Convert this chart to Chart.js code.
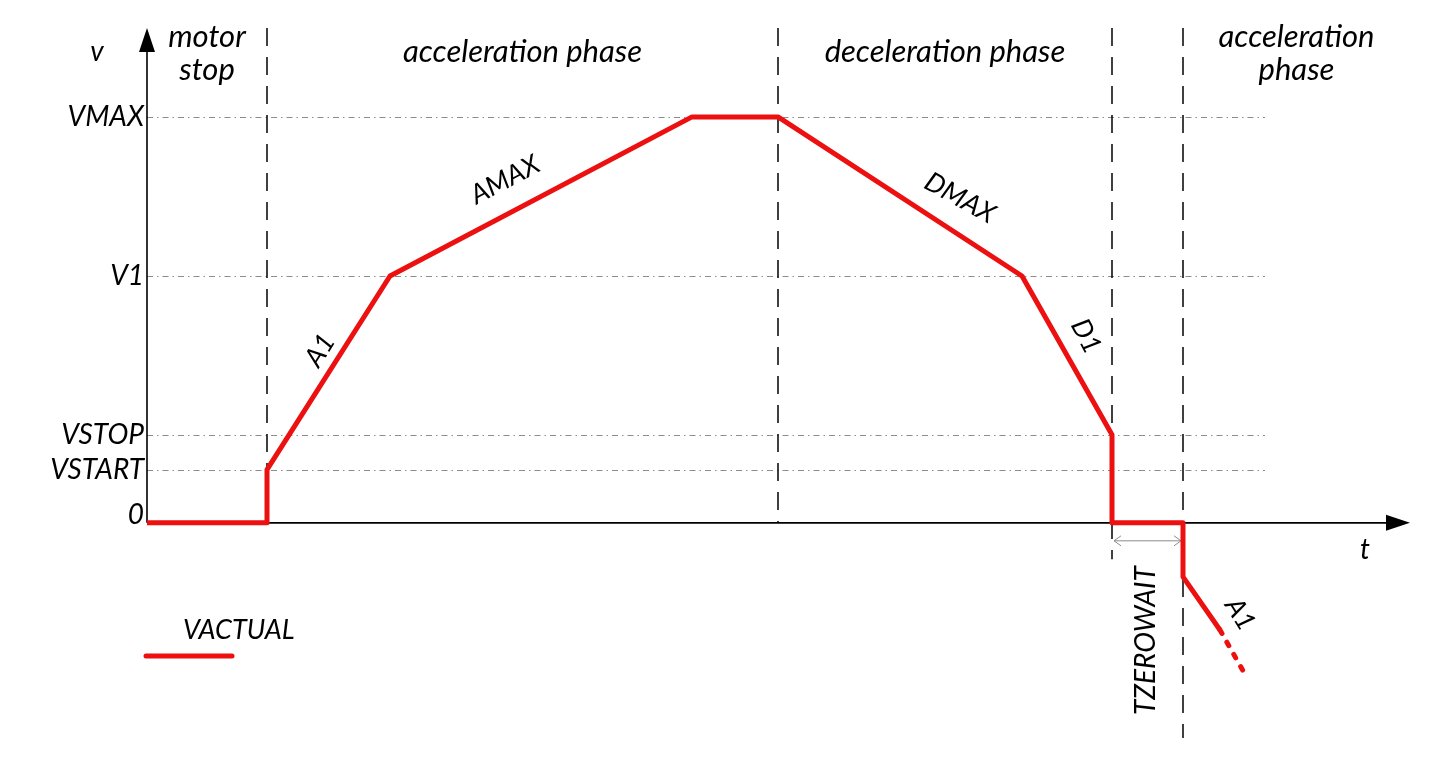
<!DOCTYPE html>
<html>
<head>
<meta charset="utf-8">
<script src="https://cdn.jsdelivr.net/npm/chart.js@4.4.1/dist/chart.umd.min.js"></script>
<style>
  html, body { margin: 0; padding: 0; background: #fff; }
  #wrap { width: 1440px; height: 759px; position: relative; }
</style>
</head>
<body>
<div id="wrap"><canvas id="chart"></canvas></div>
<script>
// Velocity profile (time in arbitrary units, velocity in % of VMAX)
const profileTime = [0, 12, 12, 24.3, 54.5, 63.1, 87.5, 96.5, 96.5, 103.6, 103.6, 107.3];
const profileVel  = [0, 0, 13.1, 60.8, 100, 100, 60.8, 21.7, 0, 0, -13.3, -26.4];
// continuation shown dotted
const tailTime = [107.3, 110];
const tailVel  = [-26.4, -38.2];

// Velocity levels marked on the v axis
const levelNames  = ['VMAX', 'V1', 'VSTOP', 'VSTART', '0'];
const levelValues = [100, 60.8, 21.7, 13.1, 0];

// Phase boundaries (time) and their lower extent (velocity)
const phaseBounds   = [12, 63.1, 96.5, 103.6];
const phaseBoundEnd = [0, 0, -9, -53];
const phaseTitles = [
  { lines: ['motor', 'stop'],          from: 0,     to: 12 },
  { lines: ['acceleration phase'],     from: 12,    to: 63.1 },
  { lines: ['deceleration phase'],     from: 63.1,  to: 96.5 },
  { lines: ['acceleration', 'phase'],  from: 103.6, to: 126.3 },
];

const RED = '#ec1010';
const FONT = 'Lato, "Open Sans", sans-serif';

const toXY = (xs, ys) => xs.map((x, i) => ({ x, y: ys[i] }));

// Draws axes, guide lines and all the hand-written looking labels
const annotations = {
  id: 'annotations',
  beforeDatasetsDraw(chart) {
    const { ctx, scales: { x, y } } = chart;
    const x0 = x.getPixelForValue(0);
    const y0 = y.getPixelForValue(0);
    ctx.save();

    // horizontal dash-dot level lines
    ctx.strokeStyle = '#8c8c8c';
    ctx.lineWidth = 1;
    ctx.setLineDash([6, 4, 1.5, 4]);
    levelValues.forEach(v => {
      if (v === 0) return;
      const py = Math.round(y.getPixelForValue(v)) + 0.5;
      ctx.beginPath();
      ctx.moveTo(x0, py);
      ctx.lineTo(x.getPixelForValue(111.8), py);
      ctx.stroke();
    });

    // vertical dashed phase boundaries
    ctx.strokeStyle = '#111';
    ctx.lineWidth = 1.6;
    ctx.setLineDash([18, 11]);
    phaseBounds.forEach((t, i) => {
      const px = Math.round(x.getPixelForValue(t));
      ctx.beginPath();
      ctx.moveTo(px, y.top);
      ctx.lineTo(px, y.getPixelForValue(phaseBoundEnd[i]));
      ctx.stroke();
    });
    ctx.setLineDash([]);

    // axes with arrow heads
    ctx.strokeStyle = '#000';
    ctx.fillStyle = '#000';
    ctx.lineWidth = 1.6;
    ctx.beginPath();
    ctx.moveTo(x0, y0);
    ctx.lineTo(x0, y.top + 14);
    ctx.moveTo(x0, y0);
    ctx.lineTo(x.right - 20, y0);
    ctx.stroke();
    ctx.beginPath();
    ctx.moveTo(x0, y.top);
    ctx.lineTo(x0 - 8, y.top + 24);
    ctx.lineTo(x0 + 8, y.top + 24);
    ctx.closePath();
    ctx.fill();
    ctx.beginPath();
    ctx.moveTo(x.right, y0);
    ctx.lineTo(x.right - 24, y0 - 8);
    ctx.lineTo(x.right - 24, y0 + 8);
    ctx.closePath();
    ctx.fill();

    // zero-wait double arrow
    const ax1 = x.getPixelForValue(96.5) + 2;
    const ax2 = x.getPixelForValue(103.6) - 2;
    const ay = y0 + 18;
    ctx.strokeStyle = '#8c8c8c';
    ctx.lineWidth = 1;
    ctx.beginPath();
    ctx.moveTo(ax1, ay); ctx.lineTo(ax2, ay);
    ctx.moveTo(ax1 + 7, ay - 5); ctx.lineTo(ax1, ay); ctx.lineTo(ax1 + 7, ay + 5);
    ctx.moveTo(ax2 - 7, ay - 5); ctx.lineTo(ax2, ay); ctx.lineTo(ax2 - 7, ay + 5);
    ctx.stroke();

    ctx.restore();
  },
  afterDatasetsDraw(chart) {
    const { ctx, scales: { x, y } } = chart;
    const x0 = x.getPixelForValue(0);
    const y0 = y.getPixelForValue(0);
    ctx.save();
    ctx.fillStyle = '#000';
    ctx.textBaseline = 'middle';

    // level labels
    ctx.font = `italic 28px ${FONT}`;
    ctx.textAlign = 'right';
    levelNames.forEach((name, i) => {
      const dy = levelValues[i] === 0 ? -8 : 0;
      ctx.fillText(name, x0 - 3, y.getPixelForValue(levelValues[i]) + dy);
    });

    // axis names
    ctx.textAlign = 'center';
    ctx.font = `italic 28px ${FONT}`;
    ctx.fillText('v', x0 - 50, 52);
    ctx.fillText('t', x.getPixelForValue(121.8), y0 + 27);

    // phase titles
    ctx.font = `italic 31px ${FONT}`;
    phaseTitles.forEach(p => {
      const cx = (x.getPixelForValue(p.from) + x.getPixelForValue(p.to)) / 2;
      if (p.lines.length === 1) {
        ctx.fillText(p.lines[0], cx, 52);
      } else {
        ctx.fillText(p.lines[0], cx, 37);
        ctx.fillText(p.lines[1], cx, 70);
      }
    });

    // slope labels
    const rotated = (text, t, v, deg, size) => {
      ctx.save();
      ctx.translate(x.getPixelForValue(t), y.getPixelForValue(v));
      ctx.rotate(deg * Math.PI / 180);
      ctx.font = `italic ${size}px ${FONT}`;
      ctx.fillText(text, 0, 0);
      ctx.restore();
    };
    rotated('A1', 17.3, 42.5, -58, 27);
    rotated('AMAX', 35.8, 84.5, -28, 27);
    rotated('DMAX', 81.3, 80, 29, 27);
    rotated('D1', 93.9, 46, 62, 27);
    rotated('TZEROWAIT', 99.9, -29, -90, 28);
    rotated('A1', 109.3, -22.5, 58, 27);

    // legend
    ctx.textAlign = 'left';
    ctx.font = `italic 27px ${FONT}`;
    ctx.fillText('VACTUAL', 183, 630);
    ctx.strokeStyle = RED;
    ctx.lineWidth = 5;
    ctx.lineCap = 'round';
    ctx.beginPath();
    ctx.moveTo(146, 656);
    ctx.lineTo(232, 656);
    ctx.stroke();

    ctx.restore();
  }
};

new Chart(document.getElementById('chart'), {
  type: 'line',
  data: {
    datasets: [
      {
        label: 'VACTUAL',
        data: toXY(profileTime, profileVel),
        borderColor: RED,
        borderWidth: 5,
        pointRadius: 0,
        tension: 0,
        borderJoinStyle: 'round',
        borderCapStyle: 'butt',
      },
      {
        label: 'VACTUAL (cont.)',
        data: toXY(tailTime, tailVel),
        borderColor: RED,
        borderWidth: 5,
        pointRadius: 0,
        tension: 0,
        borderDash: [4, 10],
        borderCapStyle: 'round',
      },
    ],
  },
  options: {
    responsive: true,
    maintainAspectRatio: false,
    animation: false,
    layout: { padding: { left: 147, right: 30, top: 28, bottom: 19 } },
    scales: {
      x: { type: 'linear', min: 0, max: 126.3, display: false },
      y: { type: 'linear', min: -53.5, max: 121.9, display: false },
    },
    plugins: {
      legend: { display: false },
      tooltip: { enabled: false },
    },
  },
  plugins: [annotations],
});
</script>
</body>
</html>
